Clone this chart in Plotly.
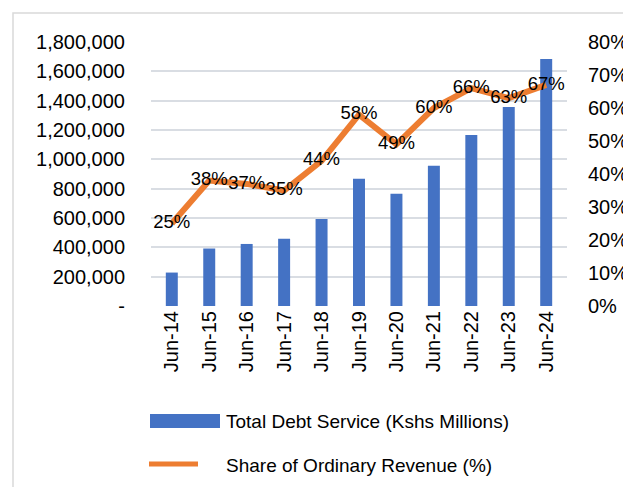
import plotly.graph_objects as go

categories = ["Jun-14", "Jun-15", "Jun-16", "Jun-17", "Jun-18", "Jun-19",
              "Jun-20", "Jun-21", "Jun-22", "Jun-23", "Jun-24"]
debt_service = [228000, 392000, 423000, 459000, 594000, 868000,
                766000, 957000, 1166000, 1357000, 1684000]
revenue_share = [25, 38, 37, 35, 44, 58, 49, 60, 66, 63, 67]
left_tickvals = [0, 200000, 400000, 600000, 800000, 1000000,
                 1200000, 1400000, 1600000, 1800000]
left_ticktext = ["-", "200,000", "400,000", "600,000", "800,000", "1,000,000",
                 "1,200,000", "1,400,000", "1,600,000", "1,800,000"]
right_tickvals = [0, 10, 20, 30, 40, 50, 60, 70, 80]
right_ticktext = ["0%", "10%", "20%", "30%", "40%", "50%", "60%", "70%", "80%"]
legend_names = ["Total Debt Service (Kshs Millions)", "Share of Ordinary Revenue (%)"]

FONT = "Liberation Sans, Arial, sans-serif"
BLUE = "#4472C4"
ORANGE = "#ED7D31"
GRID = "#D9DDE3"

fig = go.Figure()
fig.add_trace(go.Bar(
    x=categories, y=debt_service, name=legend_names[0],
    marker=dict(color=BLUE, line=dict(width=0)), width=0.32,
    yaxis="y", showlegend=False,
))
fig.add_trace(go.Scatter(
    x=categories, y=revenue_share, name=legend_names[1],
    mode="lines+text", line=dict(color=ORANGE, width=6),
    text=[f"{v}%" for v in revenue_share], textposition="middle center",
    textfont=dict(family=FONT, size=18.5, color="#000000"),
    yaxis="y2", showlegend=False, cliponaxis=False,
))

PL, PR, PT, PB = 143, 559, 34, 298
def px(x):
    return (x - PL) / (PR - PL)
def py(y):
    return (PB - y) / (PB - PT)

shapes = [
    dict(type="rect", xref="paper", yref="paper",
         x0=px(5), x1=px(640), y0=py(5), y1=py(500),
         line=dict(color="#D9D9D9", width=1.5), fillcolor="rgba(0,0,0,0)", layer="below"),
    dict(type="rect", xref="paper", yref="paper",
         x0=px(142), x1=px(212), y0=py(420), y1=py(406),
         line=dict(width=0), fillcolor=BLUE),
    dict(type="line", xref="paper", yref="paper",
         x0=px(141), x1=px(190), y0=py(456), y1=py(456),
         line=dict(color=ORANGE, width=5)),
]
annotations = [
    dict(xref="paper", yref="paper", x=px(216), y=py(413), text=legend_names[0],
         showarrow=False, xanchor="left", yanchor="middle",
         font=dict(family=FONT, size=19, color="#000000")),
    dict(xref="paper", yref="paper", x=px(216), y=py(457), text=legend_names[1],
         showarrow=False, xanchor="left", yanchor="middle",
         font=dict(family=FONT, size=19, color="#000000")),
]

fig.update_layout(
    width=631, height=487,
    margin=dict(l=PL, r=631 - PR, t=PT, b=487 - PB),
    paper_bgcolor="white", plot_bgcolor="white",
    font=dict(family=FONT, size=20, color="#000000"),
    showlegend=False,
    xaxis=dict(
        type="category", tickangle=-90, showgrid=False, showline=False,
        ticks="", tickfont=dict(family=FONT, size=20, color="#000000"),
        zeroline=False,
    ),
    yaxis=dict(
        range=[0, 1800000], tickvals=left_tickvals, ticktext=left_ticktext,
        showgrid=True, gridcolor=GRID, gridwidth=1.5, zeroline=False,
        showline=False, ticks="", ticklabelstandoff=25,
        tickfont=dict(family=FONT, size=20, color="#000000"),
    ),
    yaxis2=dict(
        range=[0, 80], tickvals=right_tickvals, ticktext=right_ticktext,
        overlaying="y", side="right", showgrid=False, zeroline=False,
        showline=False, ticks="", ticklabelstandoff=20,
        tickfont=dict(family=FONT, size=20, color="#000000"),
    ),
    shapes=shapes, annotations=annotations,
)

fig.write_html("out.html")
